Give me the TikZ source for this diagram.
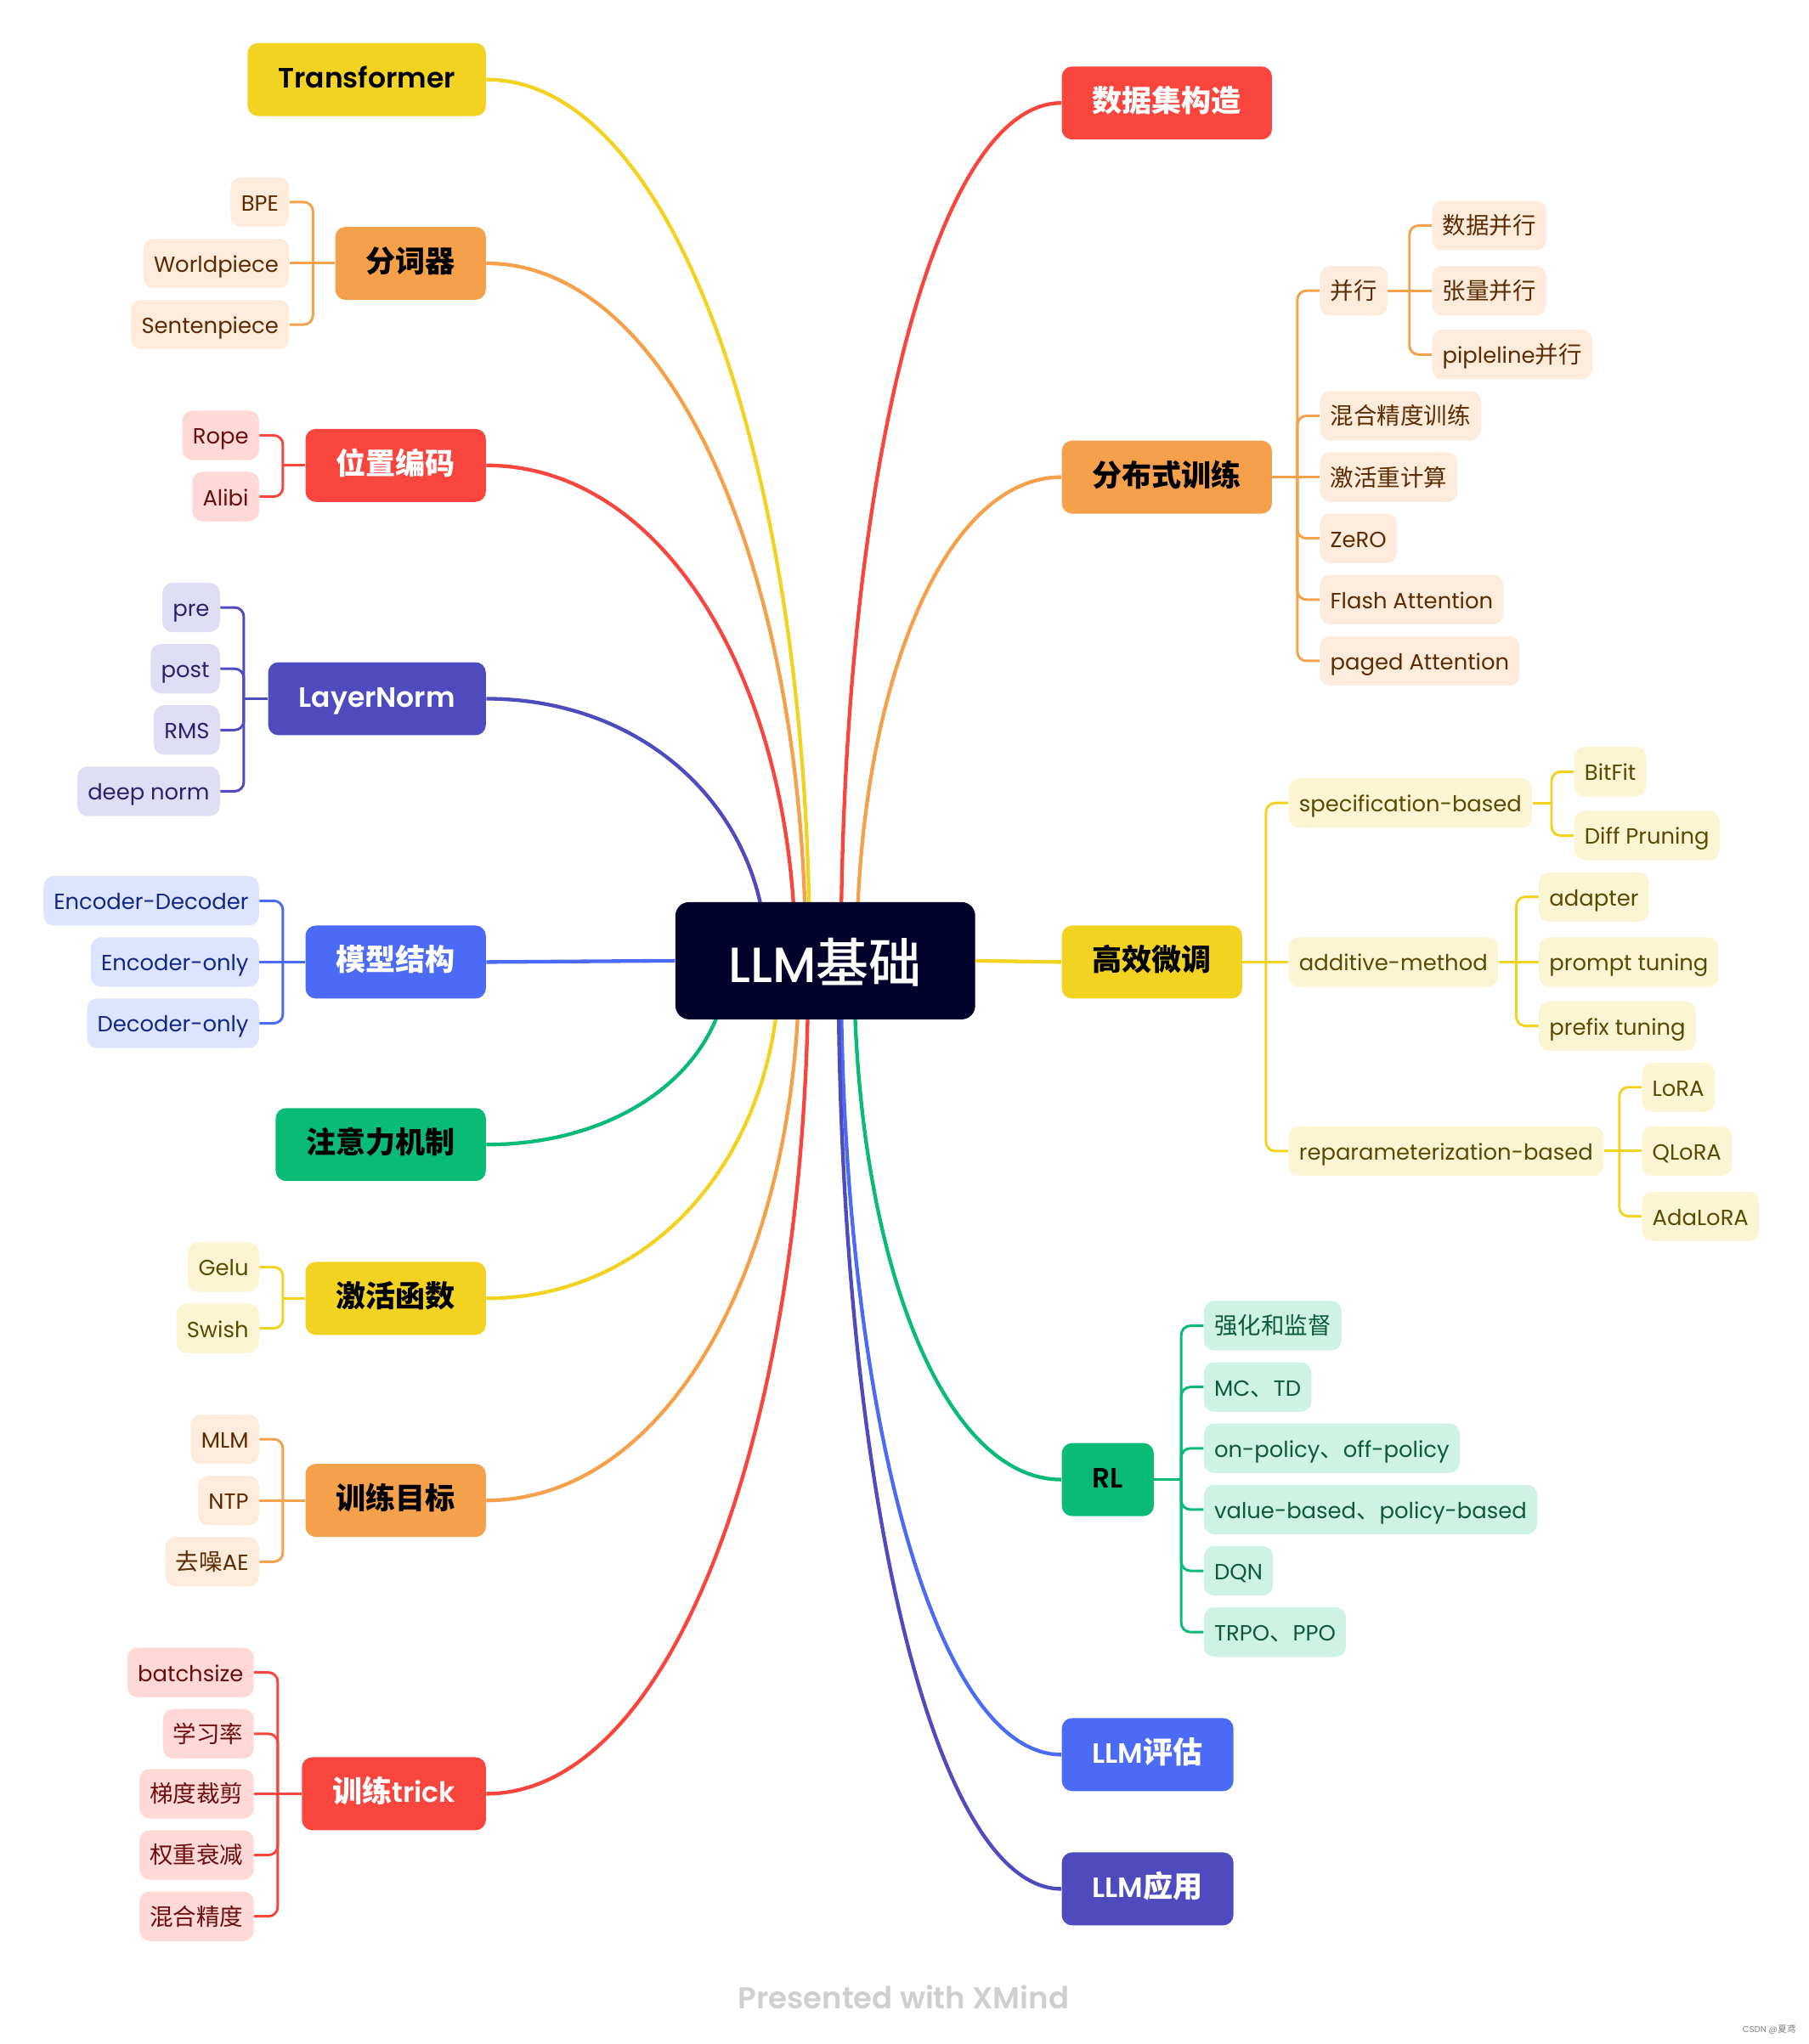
\documentclass[tikz,border=0pt]{standalone}
\usepackage{fontspec}
\setmainfont{Poppins}[Scale=0.94, BoldFont={Poppins SemiBold}]
\newfontfamily\cjk{Noto Sans CJK SC}
\newfontfamily\popmed{Poppins Medium}[Scale=0.94]
\newfontfamily\cjkmed{Noto Sans CJK SC Medium}
\usetikzlibrary{backgrounds,calc}
\definecolor{cYel}{HTML}{F2D322}
\definecolor{cOra}{HTML}{F5A14C}
\definecolor{cRed}{HTML}{F8453E}
\definecolor{cInd}{HTML}{4E4BBE}
\definecolor{cBlu}{HTML}{4B6BF7}
\definecolor{cGrn}{HTML}{0ABB78}
\definecolor{cNav}{HTML}{02022A}
\definecolor{lYel}{HTML}{FCF5D4}
\definecolor{lOra}{HTML}{FDEBDC}
\definecolor{lRed}{HTML}{FED9D8}
\definecolor{lInd}{HTML}{DFDEF4}
\definecolor{lBlu}{HTML}{DDE4FE}
\definecolor{lGrn}{HTML}{CEF2E4}
\definecolor{dYel}{HTML}{5A4A00}
\definecolor{dOra}{HTML}{5B2C00}
\definecolor{dRed}{HTML}{6A0E0E}
\definecolor{dInd}{HTML}{26236E}
\definecolor{dBlu}{HTML}{10278A}
\definecolor{dGrn}{HTML}{0B5B3A}
\definecolor{credit}{HTML}{CFCFCF}

\begin{document}
\begin{tikzpicture}[x=0.02cm, y=-0.02cm,
    topic/.style={rounded corners=4.5pt, minimum height=1.12cm, inner xsep=0.47cm, inner ysep=0pt,
      text height=0.92em, text depth=0.1em, font=\fontsize{13}{15}\selectfont\bfseries},
    leaf/.style={rounded corners=4.5pt, minimum height=0.76cm, inner xsep=0.16cm, inner ysep=0pt,
      text height=0.92em, text depth=0.1em, font=\fontsize{10.2}{12}\selectfont},
    curve/.style={line width=1.6pt},
    tree/.style={line width=1.1pt, rounded corners=4pt}]
  \tikzstyle{osub}=[leaf, fill=lOra, text=dOra]
  \tikzstyle{rsub}=[leaf, fill=lRed, text=dRed]
  \tikzstyle{isub}=[leaf, fill=lInd, text=dInd]
  \tikzstyle{bsub}=[leaf, fill=lBlu, text=dBlu]
  \tikzstyle{ysub}=[leaf, fill=lYel, text=dYel]
  \tikzstyle{gsub}=[leaf, fill=lGrn, text=dGrn]

  \useasboundingbox (0,0) rectangle (1387,1568);

  \node[fill=cNav, text=white, rounded corners=6pt, minimum width=4.6cm, minimum height=1.8cm,
    text height=21pt, text depth=2.3pt, font=\fontsize{23}{27}\selectfont] (llm) at (633,737) {\popmed LLM{\cjkmed 基础}};

  \node[topic, fill=cYel, anchor=east] (tf) at (373,61) {Transformer};
  \node[topic, fill=cOra, anchor=east] (tok) at (373,202) {\cjk 分词器};
  \node[topic, fill=cRed, text=white, anchor=east] (pos) at (373,357) {\cjk 位置编码};
  \node[topic, fill=cInd, text=white, anchor=east] (ln) at (373,536) {LayerNorm};
  \node[topic, fill=cBlu, text=white, anchor=east] (arch) at (373,738) {\cjk 模型结构};
  \node[topic, fill=cGrn, anchor=east] (attn) at (373,878) {\cjk 注意力机制};
  \node[topic, fill=cYel, anchor=east] (act) at (373,996) {\cjk 激活函数};
  \node[topic, fill=cOra, anchor=east] (obj) at (373,1151) {\cjk 训练目标};
  \node[topic, fill=cRed, text=white, anchor=east] (trick) at (373,1376) {{\cjk 训练}trick};

  \node[topic, fill=cRed, text=white, anchor=west] (data) at (814,79) {\cjk 数据集构造};
  \node[topic, fill=cOra, anchor=west] (dist) at (814,366) {\cjk 分布式训练};
  \node[topic, fill=cYel, anchor=west] (peft) at (814,738) {\cjk 高效微调};
  \node[topic, fill=cGrn, anchor=west] (rl) at (814,1135) {RL};
  \node[topic, fill=cBlu, text=white, anchor=west] (eval) at (814,1346) {LLM{\cjk 评估}};
  \node[topic, fill=cInd, text=white, anchor=west] (app) at (814,1449) {LLM{\cjk 应用}};

  \begin{scope}[on background layer]
    \draw[curve, cYel] (tf.east) .. controls (517,61) and (621,359) .. ($(llm)+(-12,0)$);
    \draw[curve, cOra] (tok.east) .. controls (515,202) and (618,438) .. ($(llm)+(-15,0)$);
    \draw[curve, cRed] (pos.east) .. controls (510,357) and (610,525) .. ($(llm)+(-23,0)$);
    \draw[curve, cInd] (ln.east) .. controls (498,536) and (588,625) .. ($(llm)+(-45,0)$);
    \draw[curve, cBlu] (arch.east) -- (llm.west);
    \draw[curve, cGrn] (attn.east) .. controls (480,878) and (558,816) .. ($(llm)+(-75,0)$);
    \draw[curve, cYel] (act.east) .. controls (504,996) and (598,882) .. ($(llm)+(-35,0)$);
    \draw[curve, cOra] (obj.east) .. controls (512,1151) and (613,969) .. ($(llm)+(-20,0)$);
    \draw[curve, cRed] (trick.east) .. controls (516,1376) and (620,1095) .. ($(llm)+(-13,0)$);
    \draw[curve, cRed] (data.west) .. controls (716,79) and (645,369) .. ($(llm)+(12,0)$);
    \draw[curve, cOra] (dist.west) .. controls (723,366) and (657,530) .. ($(llm)+(24,0)$);
    \draw[curve, cYel] (llm.east) -- (peft.west);
    \draw[curve, cGrn] (rl.west) .. controls (722,1135) and (655,960) .. ($(llm)+(22,0)$);
    \draw[curve, cBlu] (eval.west) .. controls (716,1346) and (645,1078) .. ($(llm)+(12,0)$);
    \draw[curve, cInd] (app.west) .. controls (715,1449) and (643,1136) .. ($(llm)+(10,0)$);
  \end{scope}

  \node[osub, anchor=east] (bpe) at (222,155) {BPE};
  \node[osub, anchor=east] (wp) at (222,202) {Worldpiece};
  \node[osub, anchor=east] (sp) at (222,249) {Sentenpiece};
  \coordinate (tokj) at (240,202);
  \draw[tree, cOra] (tok.west) -- (wp.east);
  \draw[tree, cOra] (tokj) |- (bpe.east);
  \draw[tree, cOra] (tokj) |- (sp.east);

  \node[rsub, anchor=east] (rope) at (199,334) {Rope};
  \node[rsub, anchor=east] (alibi) at (199,381) {Alibi};
  \coordinate (posj) at (217,357);
  \draw[tree, cRed] (pos.west) -- (posj);
  \draw[tree, cRed] (posj) |- (rope.east);
  \draw[tree, cRed] (posj) |- (alibi.east);

  \node[isub, anchor=east] (pre) at (169,466) {pre};
  \node[isub, anchor=east] (post) at (169,513) {post};
  \node[isub, anchor=east] (rms) at (169,560) {RMS};
  \node[isub, anchor=east] (deep) at (169,607) {deep norm};
  \coordinate (lnj) at (187,536);
  \draw[tree, cInd] (ln.west) -- (lnj);
  \draw[tree, cInd] (lnj) |- (pre.east);
  \draw[tree, cInd] (lnj) |- (post.east);
  \draw[tree, cInd] (lnj) |- (rms.east);
  \draw[tree, cInd] (lnj) |- (deep.east);

  \node[bsub, anchor=east] (encdec) at (199,691) {Encoder-Decoder};
  \node[bsub, anchor=east] (enc) at (199,738) {Encoder-only};
  \node[bsub, anchor=east] (dec) at (199,785) {Decoder-only};
  \coordinate (archj) at (217,738);
  \draw[tree, cBlu] (arch.west) -- (enc.east);
  \draw[tree, cBlu] (archj) |- (encdec.east);
  \draw[tree, cBlu] (archj) |- (dec.east);

  \node[ysub, anchor=east] (gelu) at (199,972) {Gelu};
  \node[ysub, anchor=east] (swish) at (199,1019) {Swish};
  \coordinate (actj) at (217,996);
  \draw[tree, cYel] (act.west) -- (actj);
  \draw[tree, cYel] (actj) |- (gelu.east);
  \draw[tree, cYel] (actj) |- (swish.east);

  \node[osub, anchor=east] (mlm) at (199,1104) {MLM};
  \node[osub, anchor=east] (ntp) at (199,1151) {NTP};
  \node[osub, anchor=east] (dae) at (199,1198) {{\cjk 去噪}AE};
  \coordinate (objj) at (217,1151);
  \draw[tree, cOra] (obj.west) -- (ntp.east);
  \draw[tree, cOra] (objj) |- (mlm.east);
  \draw[tree, cOra] (objj) |- (dae.east);

  \node[rsub, anchor=east] (bs) at (195,1283) {batchsize};
  \node[rsub, anchor=east] (lr) at (195,1330) {\cjk 学习率};
  \node[rsub, anchor=east] (clip) at (195,1376) {\cjk 梯度裁剪};
  \node[rsub, anchor=east] (wd) at (195,1423) {\cjk 权重衰减};
  \node[rsub, anchor=east] (amp) at (195,1470) {\cjk 混合精度};
  \coordinate (trickj) at (213,1376);
  \draw[tree, cRed] (trick.west) -- (clip.east);
  \draw[tree, cRed] (trickj) |- (bs.east);
  \draw[tree, cRed] (trickj) |- (lr.east);
  \draw[tree, cRed] (trickj) |- (wd.east);
  \draw[tree, cRed] (trickj) |- (amp.east);

  \node[osub, anchor=west] (para) at (1012,223) {\cjk 并行};
  \node[osub, anchor=west] (mp) at (1012,319) {\cjk 混合精度训练};
  \node[osub, anchor=west] (ckpt) at (1012,366) {\cjk 激活重计算};
  \node[osub, anchor=west] (zero) at (1012,413) {ZeRO};
  \node[osub, anchor=west] (flash) at (1012,460) {Flash Attention};
  \node[osub, anchor=west] (paged) at (1012,507) {paged Attention};
  \coordinate (distj) at (995,366);
  \draw[tree, cOra] (dist.east) -- (ckpt.west);
  \draw[tree, cOra] (distj) |- (para.west);
  \draw[tree, cOra] (distj) |- (mp.west);
  \draw[tree, cOra] (distj) |- (zero.west);
  \draw[tree, cOra] (distj) |- (flash.west);
  \draw[tree, cOra] (distj) |- (paged.west);

  \node[osub, anchor=west] (dp) at (1098,173) {\cjk 数据并行};
  \node[osub, anchor=west] (tp) at (1098,223) {\cjk 张量并行};
  \node[osub, anchor=west] (pp) at (1098,272) {pipleline{\cjk 并行}};
  \coordinate (paraj) at (1081,223);
  \draw[tree, cOra] (para.east) -- (tp.west);
  \draw[tree, cOra] (paraj) |- (dp.west);
  \draw[tree, cOra] (paraj) |- (pp.west);

  \node[ysub, anchor=west] (spec) at (988,616) {specification-based};
  \node[ysub, anchor=west] (add) at (988,738) {additive-method};
  \node[ysub, anchor=west] (repa) at (988,883) {reparameterization-based};
  \coordinate (peftj) at (971,738);
  \draw[tree, cYel] (peft.east) -- (add.west);
  \draw[tree, cYel] (peftj) |- (spec.west);
  \draw[tree, cYel] (peftj) |- (repa.west);

  \node[ysub, anchor=west] (bitfit) at (1207,592) {BitFit};
  \node[ysub, anchor=west] (diffp) at (1207,641) {Diff Pruning};
  \coordinate (specj) at (1190,616);
  \draw[tree, cYel] (spec.east) -- (specj);
  \draw[tree, cYel] (specj) |- (bitfit.west);
  \draw[tree, cYel] (specj) |- (diffp.west);

  \node[ysub, anchor=west] (adapter) at (1180,688) {adapter};
  \node[ysub, anchor=west] (prompt) at (1180,738) {prompt tuning};
  \node[ysub, anchor=west] (prefix) at (1180,787) {prefix tuning};
  \coordinate (addj) at (1163,738);
  \draw[tree, cYel] (add.east) -- (prompt.west);
  \draw[tree, cYel] (addj) |- (adapter.west);
  \draw[tree, cYel] (addj) |- (prefix.west);

  \node[ysub, anchor=west] (lora) at (1259,834) {LoRA};
  \node[ysub, anchor=west] (qlora) at (1259,883) {QLoRA};
  \node[ysub, anchor=west] (adalora) at (1259,933) {AdaLoRA};
  \coordinate (repaj) at (1242,883);
  \draw[tree, cYel] (repa.east) -- (qlora.west);
  \draw[tree, cYel] (repaj) |- (lora.west);
  \draw[tree, cYel] (repaj) |- (adalora.west);

  \node[gsub, anchor=west] (rlsl) at (923,1017) {\cjk 强化和监督};
  \node[gsub, anchor=west] (mctd) at (923,1064) {MC{\cjk 、}TD};
  \node[gsub, anchor=west] (onoff) at (923,1111) {on-policy{\cjk 、}off-policy};
  \node[gsub, anchor=west] (vp) at (923,1158) {value-based{\cjk 、}policy-based};
  \node[gsub, anchor=west] (dqn) at (923,1205) {DQN};
  \node[gsub, anchor=west] (ppo) at (923,1252) {TRPO{\cjk 、}PPO};
  \coordinate (rlj) at (906,1135);
  \draw[tree, cGrn] (rl.east) -- (rlj);
  \draw[tree, cGrn] (rlj) |- (rlsl.west);
  \draw[tree, cGrn] (rlj) |- (mctd.west);
  \draw[tree, cGrn] (rlj) |- (onoff.west);
  \draw[tree, cGrn] (rlj) |- (vp.west);
  \draw[tree, cGrn] (rlj) |- (dqn.west);
  \draw[tree, cGrn] (rlj) |- (ppo.west);

  \node[text=credit, font=\fontsize{14}{16}\selectfont\bfseries] (xmind) at (693,1532) {Presented with XMind};
  \node[text=gray, font=\fontsize{4}{5}\selectfont] (csdn) at (1357,1557) {CSDN @{\cjk 夏鸢}};
\end{tikzpicture}
\end{document}
